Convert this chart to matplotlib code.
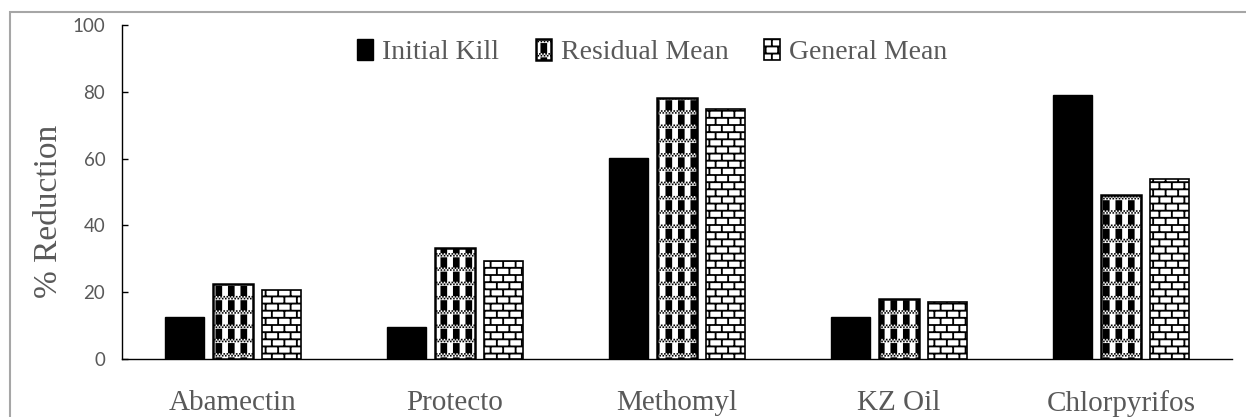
import warnings
warnings.filterwarnings("ignore")
import numpy as np
import matplotlib
matplotlib.use("Agg")
import matplotlib.pyplot as plt
from matplotlib import hatch as mhatch
from matplotlib.path import Path
from matplotlib.patches import Rectangle
from matplotlib import font_manager as fm

# ---------------- data ----------------
categories = ["Abamectin", "Protecto", "Methomyl", "KZ Oil", "Chlorpyrifos"]
series_names = ["Initial Kill", "Residual Mean", "General Mean"]
initial_kill = [12.6, 9.6, 60.1, 12.5, 79.0]
residual_mean = [22.4, 33.2, 78.2, 18.1, 49.0]
general_mean = [20.6, 29.3, 74.9, 17.1, 54.0]
yticks = [0, 20, 40, 60, 80, 100]


# ---------------- custom hatch patterns (filled rects in unit tile) ----------------
def _rects_to_path_arrays(rects):
    verts = []
    codes = []
    for (x0, y0, x1, y1) in rects:
        verts += [(x0, y0), (x1, y0), (x1, y1), (x0, y1), (x0, y0)]
        codes += [Path.MOVETO, Path.LINETO, Path.LINETO, Path.LINETO, Path.CLOSEPOLY]
    return np.array(verts, float), np.array(codes, Path.code_type)


def _brick_rects():
    nrows, nb, t = 14, 8, 0.018
    h, w = 1.0 / nrows, 1.0 / nb
    rects = []
    for k in range(nrows):
        yc = k * h + h / 2
        rects.append((0.0, yc - t / 2, 1.0, yc + t / 2))
    for k in range(nrows):
        y0 = k * h + h / 2
        y1 = y0 + h
        for j in range(nb):
            xc = j * w + w / 4 + (k % 2) * w / 2
            if y1 <= 1.0:
                rects.append((xc - t / 2, y0, xc + t / 2, y1))
            else:
                rects.append((xc - t / 2, y0, xc + t / 2, 1.0))
                rects.append((xc - t / 2, 0.0, xc + t / 2, y1 - 1.0))
    return rects


def _resid_rects():
    nb, ncols = 7, 8
    bh = 1.0 / nb
    band = 0.036
    sw = 0.066
    cw = 1.0 / ncols
    rects = []
    for k in range(nb):
        yb = k * bh
        for j in range(ncols):
            x0 = j * cw + 0.03
            rects.append((x0, yb + band + 0.004, x0 + sw, yb + bh - 0.002))
        n = 32
        s = 1.0 / n / 2
        for r in range(2):
            for i in range(n):
                x0 = i / n + (r % 2) * s
                y0 = yb + 0.006 + r * s * 1.2
                rects.append((x0, y0, x0 + s, y0 + s))
    return rects


class BrickHatch(mhatch.HatchPatternBase):
    _rects = _brick_rects()

    def __init__(self, hatch, density):
        self.on = hatch.count('b') > 0
        self.num_vertices = len(self._rects) * 5 if self.on else 0

    def set_vertices_and_codes(self, vertices, codes):
        v, c = _rects_to_path_arrays(self._rects)
        vertices[:] = v
        codes[:] = c


class ResidHatch(mhatch.HatchPatternBase):
    _rects = _resid_rects()

    def __init__(self, hatch, density):
        self.on = hatch.count('r') > 0
        self.num_vertices = len(self._rects) * 5 if self.on else 0

    def set_vertices_and_codes(self, vertices, codes):
        v, c = _rects_to_path_arrays(self._rects)
        vertices[:] = v
        codes[:] = c


mhatch._hatch_types.append(BrickHatch)
mhatch._hatch_types.append(ResidHatch)

plt.rcParams['hatch.linewidth'] = 0.05
plt.rcParams['hatch.color'] = 'black'

# ---------------- fonts ----------------
def _has(name):
    try:
        fm.findfont(fm.FontProperties(family=name), fallback_to_default=False)
        return True
    except Exception:
        return False

serif = 'Liberation Serif' if _has('Liberation Serif') else 'DejaVu Serif'
if _has('Liberation Sans Narrow'):
    tickfont = 'Liberation Sans Narrow'
elif _has('Lato'):
    tickfont = 'Lato'
else:
    tickfont = 'DejaVu Sans'
text_gray = '#595959'

# ---------------- figure ----------------
W, H = 1246, 417
fig = plt.figure(figsize=(W / 100, H / 100), dpi=100)
ax = fig.add_axes([122 / W, 1 - 359 / H, (1232 - 122) / W, (359 - 25) / H])

x = np.arange(len(categories))
bw = 0.18
off = 0.2185
ax.bar(x - off, initial_kill, bw, color='black', edgecolor='black', linewidth=1.0,
       label=series_names[0], zorder=3)
ax.bar(x, residual_mean, bw, color='white', edgecolor='black', linewidth=1.8,
       hatch='r', label=series_names[1], zorder=3)
ax.bar(x + off, general_mean, bw, color='white', edgecolor='black', linewidth=1.2,
       hatch='b', label=series_names[2], zorder=3)

ax.set_xlim(-0.5, len(categories) - 0.5)
ax.set_ylim(0, 100)
ax.set_yticks(yticks)
ax.set_yticklabels([str(v) for v in yticks], fontfamily=tickfont, fontsize=13.5, color=text_gray)
ax.set_xticks(x)
ax.set_xticklabels(categories, fontfamily=serif, fontsize=21, color=text_gray)
ax.tick_params(axis='y', direction='in', length=4.5, width=1, color='black', pad=12)
ax.tick_params(axis='x', length=0, pad=22)
for s in ['top', 'right']:
    ax.spines[s].set_visible(False)
for s in ['left', 'bottom']:
    ax.spines[s].set_color('black')
    ax.spines[s].set_linewidth(1.0)

ax.set_ylabel('% Reduction', fontfamily=serif, fontsize=24, color=text_gray)
ax.yaxis.set_label_coords(-0.052, (359 - 211) / 334)

leg = ax.legend(loc='center', bbox_to_anchor=(0.478, 0.92), ncol=3, frameon=False,
                prop={'family': serif, 'size': 20}, handlelength=0.55, handleheight=0.8,
                handletextpad=0.35, columnspacing=1.3)
for t in leg.get_texts():
    t.set_color(text_gray)

# outer gray frame (cropped chart area border)
fig.add_artist(Rectangle((10 / W, -0.5), 2.0, 0.5 + (1 - 12 / H), transform=fig.transFigure,
                         fill=False, edgecolor='#A6A6A6', linewidth=1.5))

fig.savefig('out.png', dpi=100)
